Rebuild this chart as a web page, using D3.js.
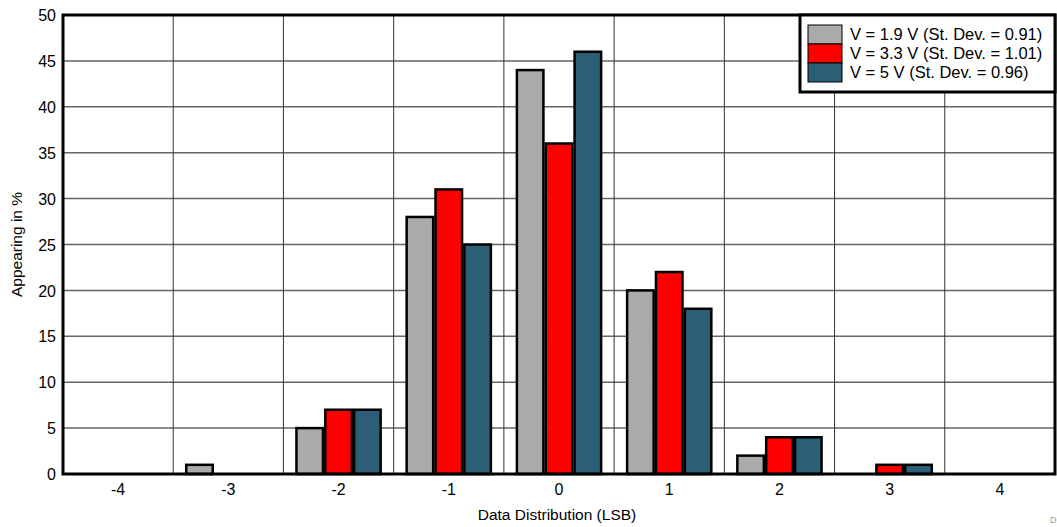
<!DOCTYPE html>
<html>
<head>
<meta charset="utf-8">
<script src="https://cdn.jsdelivr.net/npm/d3@7"></script>
<style>
  body { margin: 0; background: #fff; }
  svg text { font-family: "Liberation Sans", Arial, sans-serif; fill: #000; }
</style>
</head>
<body>
<svg id="chart" width="1057" height="527"></svg>
<script>
// data
var categories = ["-4", "-3", "-2", "-1", "0", "1", "2", "3", "4"];
var seriesNames = ["V = 1.9 V (St. Dev. = 0.91)", "V = 3.3 V (St. Dev. = 1.01)", "V = 5 V (St. Dev. = 0.96)"];
var seriesColors = ["#aaaaaa", "#ff0000", "#2b5e77"];
var v19 = [0, 1, 5, 28, 44, 20, 2, 0, 0];
var v33 = [0, 0, 7, 31, 36, 22, 4, 1, 0];
var v50 = [0, 0, 7, 25, 46, 18, 4, 1, 0];
var yTicks = [0, 5, 10, 15, 20, 25, 30, 35, 40, 45, 50];

var series = [v19, v33, v50];
var margin = {top: 15, left: 63, right: 2, bottom: 53};

var svg = d3.select("#chart");
var width = 1057 - margin.left - margin.right;
var height = 527 - margin.top - margin.bottom;

var g = svg.append("g").attr("transform", "translate(" + margin.left + "," + margin.top + ")");

var x = d3.scaleBand().domain(categories).range([0, width]).paddingInner(0).paddingOuter(0);
var xInner = d3.scaleBand().domain([0, 1, 2]).range([13, x.bandwidth() - 13]).paddingInner(0.08);
var y = d3.scaleLinear().domain([0, 50]).range([height, 0]);

// horizontal grid
g.append("g").selectAll("line").data(yTicks.slice(1, -1)).enter().append("line")
  .attr("x1", 0).attr("x2", width)
  .attr("y1", function(d) { return y(d); }).attr("y2", function(d) { return y(d); })
  .attr("stroke", "#666").attr("stroke-width", 1.5);

// vertical grid (category boundaries)
g.append("g").selectAll("line").data(categories.slice(1)).enter().append("line")
  .attr("x1", function(d) { return x(d); }).attr("x2", function(d) { return x(d); })
  .attr("y1", 0).attr("y2", height)
  .attr("stroke", "#333").attr("stroke-width", 1);

// bars
var groups = g.append("g").selectAll("g").data(categories).enter().append("g")
  .attr("transform", function(d) { return "translate(" + x(d) + ",0)"; });

groups.selectAll("rect")
  .data(function(d, i) { return series.map(function(s, k) { return {k: k, v: s[i]}; }); })
  .enter().filter(function(d) { return d.v > 0; }).append("rect")
  .attr("x", function(d) { return xInner(d.k); })
  .attr("width", xInner.bandwidth())
  .attr("y", function(d) { return y(d.v); })
  .attr("height", function(d) { return y(0) - y(d.v); })
  .attr("fill", function(d) { return seriesColors[d.k]; })
  .attr("stroke", "#000").attr("stroke-width", 2.5);

// frame
g.append("rect").attr("x", 0).attr("y", 0).attr("width", width).attr("height", height)
  .attr("fill", "none").attr("stroke", "#000").attr("stroke-width", 3);

// axes (labels only)
var yAxis = g.append("g").call(d3.axisLeft(y).tickValues(yTicks).tickSize(0).tickPadding(7));
yAxis.select(".domain").remove();
yAxis.selectAll("text").style("font-size", "16px").attr("dy", "0.35em");

var xAxis = g.append("g").attr("transform", "translate(0," + height + ")")
  .call(d3.axisBottom(x).tickSize(0).tickPadding(10));
xAxis.select(".domain").remove();
xAxis.selectAll("text").style("font-size", "16px");

// axis titles
svg.append("text").attr("x", margin.left + width / 2 - 2).attr("y", 520)
  .attr("text-anchor", "middle").style("font-size", "15.5px").text("Data Distribution (LSB)");
svg.append("text").attr("transform", "translate(22," + (margin.top + height / 2) + ") rotate(-90)")
  .attr("text-anchor", "middle").style("font-size", "15.5px").text("Appearing in %");

// legend
var legend = svg.append("g").attr("transform", "translate(800,15)");
legend.append("rect").attr("width", 255).attr("height", 77)
  .attr("fill", "#fff").attr("stroke", "#000").attr("stroke-width", 3);
var items = legend.selectAll("g.item").data(seriesNames).enter().append("g")
  .attr("transform", function(d, i) { return "translate(8," + (10 + i * 19) + ")"; });
items.append("rect").attr("width", 34).attr("height", 19)
  .attr("fill", function(d, i) { return seriesColors[i]; })
  .attr("stroke", "#000").attr("stroke-width", 1);
items.append("text").attr("x", 42).attr("y", 15).style("font-size", "16.5px")
  .text(function(d) { return d; });

// small corner mark
svg.append("text").attr("x", 1050).attr("y", 523).style("font-size", "9px")
  .style("fill", "#999").text("D");
</script>
</body>
</html>
